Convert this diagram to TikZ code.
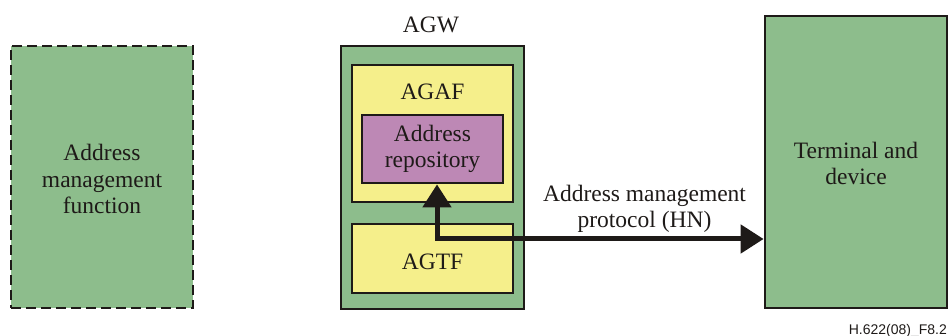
\documentclass[tikz,border=0pt]{standalone}
\usepackage{fontspec}
\setmainfont{Liberation Serif}
\newfontfamily\labelfont{Liberation Sans}
\usetikzlibrary{arrows.meta}
\definecolor{boxgreen}{RGB}{141,189,140}
\definecolor{boxyellow}{RGB}{245,239,139}
\definecolor{boxpurple}{RGB}{189,136,181}
\definecolor{inkdark}{RGB}{30,26,24}
\tikzset{
  every node/.style={font=\fontsize{23.5}{26.5}\selectfont, text=inkdark, align=center, inner sep=0pt},
  block/.style={draw=inkdark, line width=2.8pt, rectangle},
  greenblock/.style={block, fill=boxgreen},
  yellowblock/.style={block, fill=boxyellow},
  purpleblock/.style={block, fill=boxpurple},
  dashblock/.style={draw=inkdark, line width=2.6pt, fill=boxgreen, dash pattern=on 10pt off 5pt},
  flow/.style={draw=inkdark, line width=5pt, line join=miter,
    {Triangle[length=23pt,width=28pt,fill=inkdark]}-{Triangle[length=23pt,width=28pt,fill=inkdark]}},
}
\begin{document}
\begin{tikzpicture}[x=1pt,y=-1pt]
  \useasboundingbox (0,0) rectangle (949,336);

  % address management function (external, dashed)
  \node[dashblock, minimum width=182pt, minimum height=262pt] (amf) at (102,177) {};
  \node at (102,179) {Address\\management\\function};

  % access gateway and its functions
  \node[greenblock, minimum width=183pt, minimum height=263pt] (agw) at (432.5,177.5) {};
  \node (agwlabel) at (431,25) {AGW};
  \node[yellowblock, minimum width=161pt, minimum height=137pt] (agaf) at (432.5,133.5) {};
  \node (agaflabel) at (432.5,92) {AGAF};
  \node[purpleblock, minimum width=141pt, minimum height=68pt] (repo) at (432.5,149) {Address\\repository};
  \node[yellowblock, minimum width=161pt, minimum height=69pt] (agtf) at (432.5,258.5) {};
  \node (agtflabel) at (432.5,262) {AGTF};

  % terminal
  \node[greenblock, minimum width=182pt, minimum height=292pt] (term) at (856,162) {};
  \node (termlabel) at (856,163.5) {Terminal and\\device};

  % protocol between repository and terminal
  \coordinate (bend) at (437,239);
  \draw[flow] (repo.south -| bend) -- (bend) -- (bend -| term.west);
  \node (proto) at (644.5,209) {Address management\\protocol (HN)};

  % figure reference
  \node[anchor=base east, font=\labelfont\fontsize{14}{16}\selectfont] (ref) at (947,334) {H.622(08)\_F8.2};
\end{tikzpicture}
\end{document}
